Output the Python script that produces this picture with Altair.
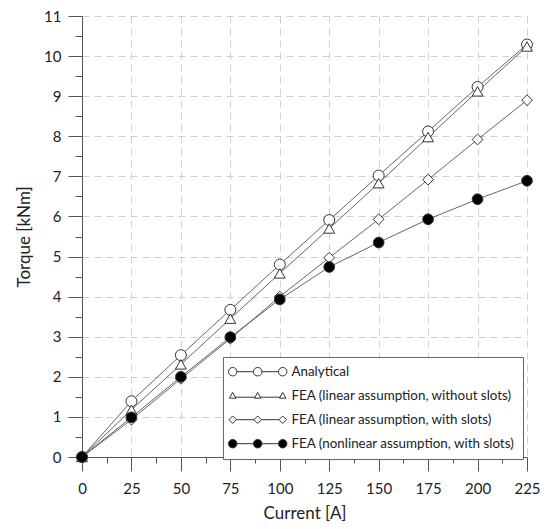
import altair as alt
import pandas as pd

currents = [0, 25, 50, 75, 100, 125, 150, 175, 200, 225]
analytical = [0, 1.39, 2.54, 3.67, 4.80, 5.91, 7.02, 8.12, 9.23, 10.29]
fea_lin_noslots = [0, 1.18, 2.31, 3.45, 4.58, 5.70, 6.83, 7.98, 9.12, 10.24]
fea_lin_slots = [0, 0.93, 1.95, 2.95, 4.00, 4.97, 5.93, 6.92, 7.92, 8.90]
fea_nonlin_slots = [0, 0.99, 2.00, 2.99, 3.93, 4.74, 5.35, 5.93, 6.43, 6.89]

series_names = [
    "Analytical",
    "FEA (linear assumption, without slots)",
    "FEA (linear assumption, with slots)",
    "FEA (nonlinear assumption, with slots)",
]
series_values = [analytical, fea_lin_noslots, fea_lin_slots, fea_nonlin_slots]
point_shapes = ["circle", "triangle-up", "diamond", "circle"]
point_fills = ["white", "white", "white", "black"]
point_sizes = [120, 115, 150, 115]

x_major = list(range(0, 226, 25))
x_minor = [12.5 + 25 * i for i in range(9)]
y_major = list(range(0, 12))
y_minor = [0.5 + i for i in range(11)]


def legend_path(kind):
    centers = [0, 5, 10]
    parts = []
    if kind == "circle":
        r = 0.85
        for c in centers:
            parts.append(f"M{c+r},0A{r},{r} 0 1,1 {c-r},0A{r},{r} 0 1,1 {c+r},0Z")
        parts.append(f"M{r},0L{5-r},0M{5+r},0L{10-r},0")
    elif kind == "triangle":
        for c in centers:
            parts.append(f"M{c},-0.65L{c+0.65},0.5L{c-0.65},0.5Z")
        parts.append("M0.5,0.3L4.5,0.3M5.5,0.3L9.5,0.3")
    elif kind == "diamond":
        for c in centers:
            parts.append(f"M{c},-0.75L{c+0.75},0L{c},0.75L{c-0.75},0Z")
        parts.append("M0.75,0L4.25,0M5.75,0L9.25,0")
    return "".join(parts)


legend_shapes = [
    legend_path("circle"),
    legend_path("triangle"),
    legend_path("diamond"),
    legend_path("circle"),
]

rows = []
for name, vals in zip(series_names, series_values):
    for c, v in zip(currents, vals):
        rows.append({"current": c, "torque": v, "series": name})
df = pd.DataFrame(rows)

FONT = "Lato"
AXIS_COLOR = "#555555"
TEXT_COLOR = "#222222"

x_scale = alt.Scale(domain=[0, 225], nice=False, zero=False)
y_scale = alt.Scale(domain=[0, 11], nice=False)

x_axis = alt.Axis(
    orient="bottom",
    values=x_major,
    tickSize=14,
    grid=True,
    gridDash=[7, 5],
    gridColor="#d0d0d0",
    domainColor=AXIS_COLOR,
    tickColor=AXIS_COLOR,
    labelFont=FONT,
    labelFontSize=15,
    labelColor=TEXT_COLOR,
    labelPadding=10,
    labelFlush=False,
    title="Current [A]",
    titleFont=FONT,
    titleFontSize=17,
    titleFontWeight="normal",
    titleColor=TEXT_COLOR,
    titlePadding=9,
)
y_axis = alt.Axis(
    orient="left",
    values=y_major,
    tickSize=14,
    grid=True,
    gridDash=[7, 5],
    gridColor="#d0d0d0",
    domainColor=AXIS_COLOR,
    tickColor=AXIS_COLOR,
    labelFont=FONT,
    labelFontSize=15,
    labelColor=TEXT_COLOR,
    labelPadding=7,
    labelFlush=False,
    title="Torque [kNm]",
    titleFont=FONT,
    titleFontSize=17,
    titleFontWeight="normal",
    titleColor=TEXT_COLOR,
    titlePadding=10,
)
x_axis_minor = alt.Axis(
    orient="bottom", values=x_minor, tickSize=6, labels=False, domain=False,
    grid=False, title=None, tickColor=AXIS_COLOR,
)
y_axis_minor = alt.Axis(
    orient="left", values=y_minor, tickSize=7, labels=False, domain=False,
    grid=False, title=None, tickColor=AXIS_COLOR,
)

base = alt.Chart(df)

lines = base.mark_line(color="#555555", strokeWidth=0.9).encode(
    x=alt.X("current:Q", scale=x_scale, axis=x_axis),
    y=alt.Y("torque:Q", scale=y_scale, axis=y_axis),
    detail="series:N",
)

points = base.mark_point(strokeWidth=1, stroke="#333333", opacity=1).encode(
    x=alt.X("current:Q", scale=x_scale, axis=x_axis),
    y=alt.Y("torque:Q", scale=y_scale, axis=y_axis),
    shape=alt.Shape("series:N", scale=alt.Scale(domain=series_names, range=point_shapes), legend=None),
    fill=alt.Fill("series:N", scale=alt.Scale(domain=series_names, range=point_fills), legend=None),
    size=alt.Size("series:N", scale=alt.Scale(domain=series_names, range=point_sizes), legend=None),
)

data_layer = alt.layer(lines, points)

legend_layer = base.transform_filter("false").transform_calculate(
    leg="datum.series"
).mark_point(size=64, strokeWidth=1, opacity=1).encode(
    x=alt.X("current:Q", scale=x_scale, axis=x_axis_minor),
    y=alt.Y("torque:Q", scale=y_scale, axis=y_axis_minor),
    shape=alt.Shape(
        "leg:N",
        scale=alt.Scale(domain=series_names, range=legend_shapes),
        legend=alt.Legend(
            title=None,
            orient="none",
            legendX=141,
            legendY=341,
            padding=8,
            symbolOffset=-5,
            labelOffset=52,
            rowPadding=9,
            labelFont=FONT,
            labelFontSize=13.4,
            labelColor=TEXT_COLOR,
            labelLimit=400,
            strokeColor="#666666",
            fillColor="white",
            symbolStrokeWidth=1,
        ),
    ),
    fill=alt.Fill("leg:N", scale=alt.Scale(domain=series_names, range=point_fills)),
    stroke=alt.Stroke("leg:N", scale=alt.Scale(domain=series_names, range=["#333333"] * 4)),
)

chart = (
    alt.layer(data_layer, legend_layer)
    .resolve_scale(shape="independent", fill="independent", size="independent", stroke="independent")
    .resolve_axis(x="independent", y="independent")
    .properties(
        width=533,
        height=513,
        autosize=alt.AutoSizeParams(type="fit", contains="padding"),
        padding={"left": 7, "top": 1, "right": 0, "bottom": 0},
    )
    .configure_view(stroke=None)
    .configure_legend(symbolOpacity=1)
)

chart.save("out.html", embed_options={"renderer": "svg", "actions": False})
